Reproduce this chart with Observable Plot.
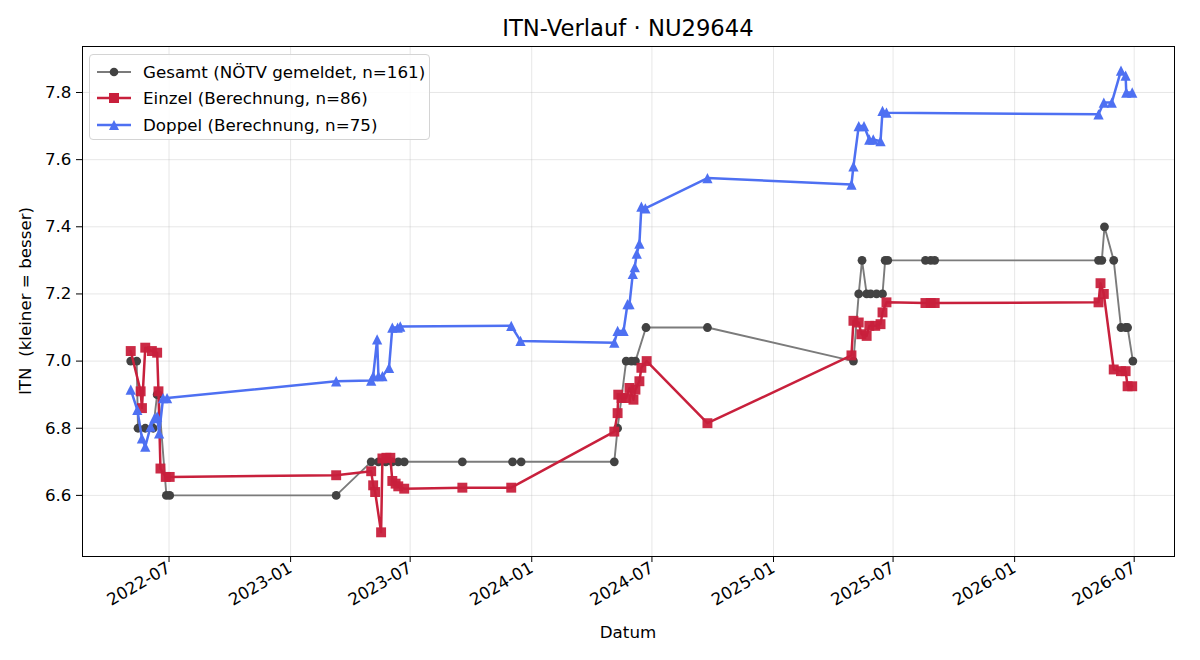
<!DOCTYPE html>
<html><head><meta charset="utf-8">
<script src="https://cdn.jsdelivr.net/npm/d3@7"></script>
<script src="https://cdn.jsdelivr.net/npm/@observablehq/plot@0.6"></script>
<style>
body{margin:0;background:#fff;font-family:"DejaVu Sans",sans-serif;}
#wrap{position:relative;width:1200px;height:660px;overflow:hidden;}
#wrap svg.plot{position:absolute;left:0;top:0;}
.title{position:absolute;left:0;width:1256px;top:15px;text-align:center;font-size:22.7px;color:#000;line-height:normal;}
.xlab{position:absolute;left:0;width:1256px;top:622px;text-align:center;font-size:16.7px;line-height:normal;}
.ylab{position:absolute;left:25px;top:301px;transform:translate(-50%,-50%) rotate(-90deg);font-size:16.7px;white-space:pre;line-height:normal;}
.legend{position:absolute;left:89px;top:54px;width:339px;height:84px;border:1px solid #d4d4d4;border-radius:4px;background:rgba(255,255,255,0.85);}
.legend .row{position:absolute;left:0;height:20px;display:flex;align-items:center;font-size:16.7px;white-space:nowrap;}
</style></head><body>
<div id="wrap">
  <div class="title">ITN-Verlauf · NU29644</div>
  <div class="xlab">Datum</div>
  <div class="ylab">ITN  (kleiner = besser)</div>
</div>
<script>
// ---- data ----
const seriesLabels = ["Gesamt (NÖTV gemeldet, n=161)", "Einzel (Berechnung, n=86)", "Doppel (Berechnung, n=75)"];

const gesamtDates = ["2022-05-04","2022-05-13","2022-05-15","2022-05-26","2022-06-07","2022-06-13","2022-06-15","2022-06-27","2022-07-02",
  "2023-03-11","2023-05-03","2023-05-14","2023-05-25","2023-06-04","2023-06-13","2023-06-22","2023-09-18","2023-12-03","2023-12-16",
  "2024-05-05","2024-05-10","2024-05-23","2024-05-31","2024-06-06","2024-06-22","2024-09-23",
  "2025-05-02","2025-05-10","2025-05-15","2025-05-22","2025-05-28","2025-06-06","2025-06-15","2025-06-19","2025-06-23","2025-08-19","2025-08-27","2025-09-02",
  "2026-05-08","2026-05-13","2026-05-17","2026-05-31","2026-06-11","2026-06-18","2026-06-21","2026-06-29"];
const gesamtValues = [7.0,7.0,6.8,6.8,6.8,6.9,6.9,6.6,6.6,
  6.6,6.7,6.7,6.7,6.7,6.7,6.7,6.7,6.7,6.7,
  6.7,6.8,7.0,7.0,7.0,7.1,7.1,
  7.0,7.2,7.3,7.2,7.2,7.2,7.2,7.3,7.3,7.3,7.3,7.3,
  7.3,7.3,7.4,7.3,7.1,7.1,7.1,7.0];

const einzelDates = ["2022-05-04","2022-05-19","2022-05-21","2022-05-26","2022-06-05","2022-06-13","2022-06-15","2022-06-18","2022-06-26","2022-07-02",
  "2023-03-11","2023-05-03","2023-05-06","2023-05-09","2023-05-18","2023-05-20","2023-05-26","2023-06-01","2023-06-04","2023-06-09","2023-06-13","2023-06-22","2023-09-18","2023-12-01",
  "2024-05-05","2024-05-10","2024-05-11","2024-05-16","2024-05-23","2024-05-28","2024-06-03","2024-06-06","2024-06-12","2024-06-15","2024-06-23","2024-09-23",
  "2025-04-29","2025-05-02","2025-05-10","2025-05-14","2025-05-22","2025-05-26","2025-06-04","2025-06-12","2025-06-15","2025-06-21","2025-08-19","2025-08-27","2025-09-02",
  "2026-05-08","2026-05-11","2026-05-16","2026-05-31","2026-06-11","2026-06-18","2026-06-21","2026-06-28"];
const einzelValues = [7.03,6.91,6.86,7.04,7.03,7.025,6.91,6.68,6.655,6.655,
  6.66,6.672,6.63,6.61,6.49,6.71,6.712,6.712,6.643,6.635,6.627,6.62,6.623,6.623,
  6.79,6.845,6.90,6.89,6.89,6.92,6.885,6.915,6.94,6.98,7.0,6.815,
  7.017,7.12,7.115,7.08,7.075,7.105,7.105,7.11,7.145,7.175,7.173,7.173,7.173,
  7.175,7.232,7.20,6.975,6.97,6.97,6.925,6.925];

const doppelDates = ["2022-05-04","2022-05-14","2022-05-21","2022-05-26","2022-06-03","2022-06-09","2022-06-13","2022-06-16","2022-06-22","2022-06-28",
  "2023-03-11","2023-05-03","2023-05-06","2023-05-12","2023-05-14","2023-05-20","2023-05-30","2023-06-04","2023-06-12","2023-06-16","2023-12-01","2023-12-15",
  "2024-05-05","2024-05-10","2024-05-19","2024-05-25","2024-05-28","2024-06-02","2024-06-05","2024-06-08","2024-06-12","2024-06-15","2024-06-21","2024-09-23",
  "2025-04-29","2025-05-02","2025-05-10","2025-05-18","2025-05-26","2025-06-01","2025-06-12","2025-06-15","2025-06-21",
  "2026-05-08","2026-05-16","2026-05-28","2026-06-11","2026-06-18","2026-06-19","2026-06-28"];
const doppelValues = [6.915,6.855,6.77,6.745,6.805,6.83,6.835,6.785,6.89,6.89,
  6.94,6.942,6.955,7.065,6.955,6.955,6.98,7.10,7.10,7.103,7.105,7.06,
  7.055,7.09,7.09,7.17,7.17,7.26,7.28,7.32,7.35,7.46,7.455,7.545,
  7.526,7.58,7.70,7.70,7.66,7.66,7.655,7.745,7.74,
  7.735,7.77,7.77,7.865,7.85,7.80,7.80];

const xTickLabels = ["2022-07","2023-01","2023-07","2024-01","2024-07","2025-01","2025-07","2026-01","2026-07"];
const yTickValues = [6.6,6.8,7.0,7.2,7.4,7.6,7.8];

// ---- build ----
const toRows = (ds, vs) => ds.map((d, i) => ({date: new Date(d), value: vs[i]}));
const gesamt = toRows(gesamtDates, gesamtValues);
const einzel = toRows(einzelDates, einzelValues);
const doppel = toRows(doppelDates, doppelValues);
const xTicks = xTickLabels.map(s => new Date(s + "-01"));

const GREY_LINE = "#7b7b7b", GREY_DOT = "#424242";
const RED = "#c8203c", BLUE = "#4e70f2";

// matplotlib-style "^" marker: width == height
const mplTriangle = {
  draw(ctx, size) {
    const h = Math.sqrt(2 * size) / 2;
    ctx.moveTo(0, -h); ctx.lineTo(h, h); ctx.lineTo(-h, h); ctx.closePath();
  }
};

const chart = Plot.plot({
  width: 1200, height: 660,
  marginLeft: 82, marginRight: 26, marginTop: 46, marginBottom: 104,
  x: {type: "utc", domain: [new Date("2022-02-20"), new Date("2026-08-31")]},
  y: {domain: [6.418, 7.937]},
  style: {fontFamily: "DejaVu Sans", fontSize: "16.7px", color: "#000", background: "transparent"},
  marks: [
    Plot.gridX(xTicks, {stroke: "#b0b0b0", strokeOpacity: 0.35, strokeWidth: 0.9}),
    Plot.gridY(yTickValues, {stroke: "#b0b0b0", strokeOpacity: 0.35, strokeWidth: 0.9}),
    Plot.line(gesamt, {x: "date", y: "value", stroke: GREY_LINE, strokeWidth: 1.9}),
    Plot.dot(gesamt, {x: "date", y: "value", r: 4.4, fill: GREY_DOT, symbol: "circle"}),
    Plot.line(einzel, {x: "date", y: "value", stroke: RED, strokeWidth: 2.5}),
    Plot.dot(einzel, {x: "date", y: "value", r: 5.6, fill: RED, fillOpacity: 0.95, symbol: "square"}),
    Plot.line(doppel, {x: "date", y: "value", stroke: BLUE, strokeWidth: 2.5}),
    Plot.dot(doppel, {x: "date", y: "value", r: 4.1, fill: BLUE, symbol: mplTriangle}),
    Plot.axisX(xTicks, {tickFormat: d3.utcFormat("%Y-%m"), tickRotate: -30, tickSize: 6, tickPadding: 4, label: null, fontSize: 16.7}),
    Plot.axisY(yTickValues, {tickFormat: d3.format(".1f"), tickSize: 6, tickPadding: 5, label: null, fontSize: 16.7}),
    Plot.frame({stroke: "#000", strokeWidth: 1})
  ]
});
chart.classList.add("plot");
const wrap = document.getElementById("wrap");
wrap.insertBefore(chart, wrap.firstChild);

// ---- legend ----
const legend = document.createElement("div");
legend.className = "legend";
const symSvg = [
  `<line x1="0" y1="10" x2="34" y2="10" stroke="${GREY_LINE}" stroke-width="1.9"/><circle cx="17" cy="10" r="4.3" fill="${GREY_DOT}"/>`,
  `<line x1="0" y1="10" x2="34" y2="10" stroke="${RED}" stroke-width="2.5"/><rect x="12" y="5" width="10" height="10" fill="${RED}"/>`,
  `<line x1="0" y1="10" x2="34" y2="10" stroke="${BLUE}" stroke-width="2.5"/><path d="M17,5 L22,15 L12,15 Z" fill="${BLUE}"/>`
];
const rowTops = [7, 33, 60];
seriesLabels.forEach((lab, i) => {
  const row = document.createElement("div");
  row.className = "row";
  row.style.top = rowTops[i] + "px";
  row.style.left = "7px";
  row.innerHTML = `<svg viewBox="0 0 46 20" style="width:46px;height:20px">${symSvg[i]}</svg><span>${lab}</span>`;
  legend.appendChild(row);
});
wrap.appendChild(legend);
</script>
</body></html>
